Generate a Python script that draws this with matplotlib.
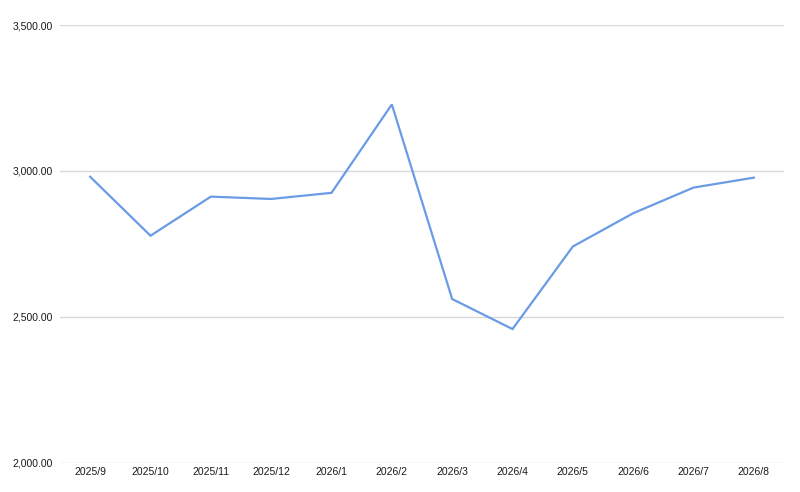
import matplotlib
matplotlib.use("Agg")
import matplotlib.pyplot as plt
from matplotlib.ticker import FuncFormatter

months = ["2025/9", "2025/10", "2025/11", "2025/12", "2026/1", "2026/2",
          "2026/3", "2026/4", "2026/5", "2026/6", "2026/7", "2026/8"]
values = [2980, 2778, 2912, 2904, 2925, 3228, 2561, 2458, 2741, 2855, 2943, 2977]
y_ticks = [2000, 2500, 3000, 3500]

plt.rcParams['font.family'] = ['Liberation Sans', 'DejaVu Sans']

fig = plt.figure(figsize=(8, 4.92), dpi=100)
ax = fig.add_axes([0.075, 0.0596, 0.905, 0.8894])

x = list(range(len(months)))
ax.plot(x, values, color="#6a9be6", linewidth=1.6, solid_joinstyle="miter")

ax.set_xlim(-0.5, len(months) - 0.5)
ax.set_ylim(2000, 3500)
ax.set_xticks(x)
ax.set_xticklabels(months)
ax.set_yticks(y_ticks)
ax.yaxis.set_major_formatter(FuncFormatter(lambda v, p: "{:,.2f}".format(v)))

ax.grid(axis="y", color="#d9d9d9", linewidth=1)
ax.set_axisbelow(True)
for s in ax.spines.values():
    s.set_visible(False)
ax.tick_params(length=0, labelsize=7.5, colors="#1a1a1a")
ax.tick_params(axis="y", pad=5)
ax.tick_params(axis="x", pad=3)

fig.savefig("out.png", dpi=100, facecolor="white")
